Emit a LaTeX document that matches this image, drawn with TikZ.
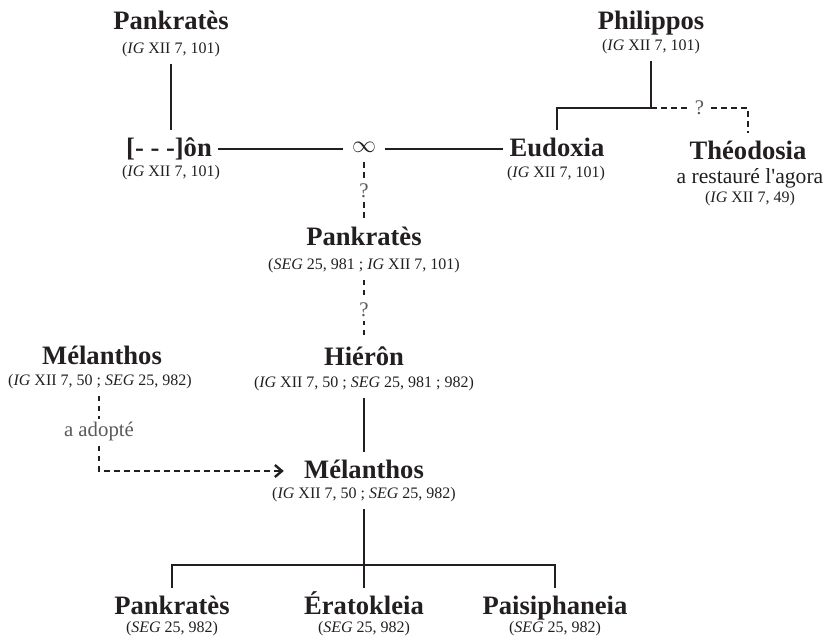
\documentclass[tikz,border=0pt]{standalone}
\usepackage{fontspec}
\setmainfont{Liberation Serif}
\usepackage{xcolor}
\usepackage{tikz}
\usetikzlibrary{
    arrows.meta,
    positioning,
    calc
}
\definecolor{ink}{HTML}{231F20}
\definecolor{note}{HTML}{5A5A5A}
\newcommand{\IG}{\textit{IG}}
\newcommand{\SEG}{\textit{SEG}}

\begin{document}
\begin{tikzpicture}[
    x=0.5pt, y=-0.5pt,
    >={Straight Barb[length=3.5pt,width=6pt,line width=1.2pt]},
    person/.style={font=\fontsize{13.3}{15}\selectfont\bfseries, text=ink,
        inner sep=3pt, text height=10pt, text depth=2.5pt},
    cite/.style={font=\fontsize{8}{9}\selectfont, text=ink,
        inner sep=3pt, text height=6.5pt, text depth=2pt},
    remark/.style={font=\fontsize{10.8}{12}\selectfont, text=ink, inner sep=1pt},
    qmark/.style={font=\fontsize{10.4}{12}\selectfont, text=note, fill=white, inner sep=2pt},
    link/.style={draw=ink, line width=1.3pt},
    maybe/.style={link, dash pattern=on 2.8pt off 2.2pt}
]

\useasboundingbox (0,0) rectangle (825,641);

% first generation
\node[person] (pankA) at (171,22) {Pankratès};
\node[cite] (pankAc) at (171,49) {(\IG{} XII 7, 101)};

\node[person] (phil) at (651,22) {Philippos};
\node[cite] (philc) at (651,46) {(\IG{} XII 7, 101)};

% the couple
\node[person] (ion) at (169,149) {[- - -]ôn};
\node[cite] (ionc) at (171,172) {(\IG{} XII 7, 101)};

\node[font=\fontsize{11.5}{13}\selectfont, text=ink, inner sep=4.5pt,
    text height=4pt, text depth=0pt] (wed) at (364,149) {$\infty$};

\node[person] (eud) at (557,149) {Eudoxia};
\node[cite] (eudc) at (556,173) {(\IG{} XII 7, 101)};

\node[person] (theo) at (748,152) {Théodosia};
\node[remark] (theor) at (750,178) {a restauré l\textquotesingle agora};
\node[cite] (theoc) at (750,198) {(\IG{} XII 7, 49)};

% descendants
\node[person] (pankB) at (364,238) {Pankratès};
\node[cite] (pankBc) at (364,265) {(\SEG{} 25, 981 ; \IG{} XII 7, 101)};

\node[person] (hier) at (364,358) {Hiérôn};
\node[cite] (hierc) at (364,383) {(\IG{} XII 7, 50 ; \SEG{} 25, 981 ; 982)};

\node[person] (melA) at (102,357) {Mélanthos};
\node[cite] (melAc) at (100,381) {(\IG{} XII 7, 50 ; \SEG{} 25, 982)};

\node[person] (melB) at (364,471) {Mélanthos};
\node[cite] (melBc) at (364,494) {(\IG{} XII 7, 50 ; \SEG{} 25, 982)};

\node[person] (pankC) at (172,607) {Pankratès};
\node[cite] (pankCc) at (172,628) {(\SEG{} 25, 982)};

\node[person] (erat) at (364,607) {Ératokleia};
\node[cite] (eratc) at (364,628) {(\SEG{} 25, 982)};

\node[person] (pais) at (555,607) {Paisiphaneia};
\node[cite] (paisc) at (555,628) {(\SEG{} 25, 982)};

\coordinate (philj) at (651,108);
\coordinate (kids) at (364,565);

% connectors
\draw[link] (pankAc.south) -- (pankAc.south |- ion.north);

\draw[link] (ion.east) -- (wed.west);
\draw[link] (wed.east) -- (eud.west);

\draw[link] (philc.south) -- (philj) -| (eud.north);

\draw[maybe] (philj) -| node[qmark, pos=0.25] {?} (theo.north);

\draw[maybe] (wed.south) -- node[qmark] {?} (pankB.north);

\draw[maybe] (pankBc.south) -- node[qmark] {?} (hier.north);

\draw[link] (hierc.south) -- (melB.north);

\draw[maybe, ->, shorten >=7pt] (melAc.south -| 99,0) |-
    node[qmark, pos=0.24] {a adopté}
    (melB.west);

\draw[link] (melBc.south) -- (erat.north);

\draw[link] (pankC.north) |- (kids) -| (pais.north);

\end{tikzpicture}
\end{document}
